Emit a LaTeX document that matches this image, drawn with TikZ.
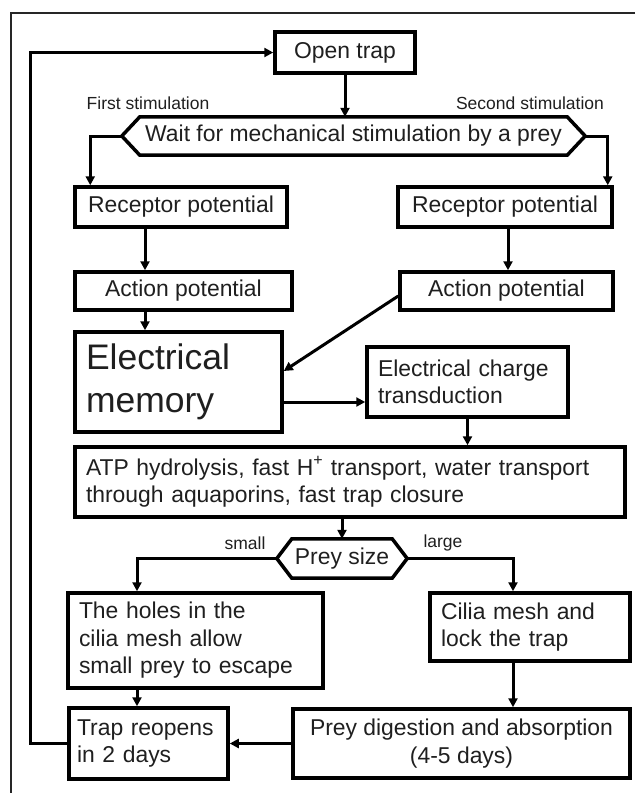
\documentclass[tikz,border=0pt]{standalone}
\usepackage{fontspec}
\setmainfont{Liberation Sans}
\usetikzlibrary{arrows.meta}
\newcommand\HexOutline[2]{%
    \draw[hexline] ([xshift=-#2]#1.west) -- (#1.north west) -- (#1.north east) -- ([xshift=#2]#1.east) -- (#1.south east) -- (#1.south west) -- cycle;
    \coordinate (#1L) at ([xshift=-#2]#1.west);
    \coordinate (#1R) at ([xshift=#2]#1.east);
}

\begin{document}
\begin{tikzpicture}[x=1pt,y=-1pt,
    box/.style={draw,line width=3.5pt,inner xsep=11pt,inner ysep=0pt,align=left,text=black!88,font=\fontsize{22.9}{27.5}\selectfont},
    cbox/.style={box,align=center,inner xsep=0pt},
    hexline/.style={line width=3.5pt},
    hextext/.style={inner sep=0pt,text=black!88,font=\fontsize{22.9}{27.5}\selectfont},
    tag/.style={inner sep=0pt,text=black!88,font=\fontsize{17.5}{20}\selectfont},
    flow/.style={line width=3pt,-{Triangle[length=9pt,width=9pt]}}]
    \useasboundingbox (0,0) rectangle (635,793);
    \draw[line width=2.5pt,color=black!85] (635,13) -- (11,13) -- (11,793);

    \node[cbox,minimum width=140pt,minimum height=41pt] (open) at (345,52.5) {Open trap};
    \node[hextext,minimum width=427pt,minimum height=38pt] (wait) at (353.5,136) {Wait for mechanical stimulation by a prey};
    \HexOutline{wait}{18pt}
    \node[tag] (first) at (148,103) {First stimulation};
    \node[tag] (second) at (530,103) {Second stimulation};

    \node[cbox,minimum width=212pt,minimum height=40pt] (recL) at (181,207) {Receptor potential};
    \node[cbox,minimum width=214pt,minimum height=40pt] (recR) at (505,207) {Receptor potential};
    \node[cbox,minimum width=217pt,minimum height=38pt] (apL) at (183.5,291) {Action potential};
    \node[cbox,minimum width=213pt,minimum height=38pt] (apR) at (506.5,291) {Action potential};
    \node[box,text width=185pt,minimum height=100pt,font=\fontsize{35.5}{43}\selectfont] (mem) at (178.5,382) {Electrical\\memory};
    \node[box,text width=179pt,minimum height=70pt] (ect) at (467.5,382) {Electrical charge\\transduction};
    \node[box,text width=528pt,minimum height=70pt] (atp) at (350,482) {ATP hydrolysis, fast H\textsuperscript{+} transport, water transport\\through aquaporins, fast trap closure};

    \node[hextext,minimum width=100pt,minimum height=39pt] (size) at (342,558.5) {Prey size};
    \HexOutline{size}{15pt}
    \node[tag] (small) at (245,543) {small};
    \node[tag] (large) at (443,543) {large};

    \node[box,text width=233pt,minimum height=95pt] (holes) at (195.5,640.5) {The holes in the\\cilia mesh allow\\small prey to escape};
    \node[box,text width=178pt,minimum height=68pt] (cilia) at (530,627) {Cilia mesh and\\lock the trap};
    \node[box,inner xsep=8pt,text width=143pt,minimum height=71pt] (reopen) at (148.5,743.5) {Trap reopens\\in 2 days};
    \node[cbox,minimum width=337pt,minimum height=69pt] (digest) at (461.5,743.5) {Prey digestion and absorption\\(4-5 days)};

    % connectors
    \coordinate (loopX) at (30,0);
    \coordinate (colL) at (145,0);
    \coordinate (colR) at (508,0);
    \coordinate (colS) at (137,0);
    \coordinate (colG) at (513,0);
    \draw[flow] (reopen.west) -- (reopen.west -| loopX) |- (open.west);
    \draw[flow] (open.south) -- (open.south |- wait.north);
    \draw[flow] (waitL) -| ([xshift=17pt]recL.north west);
    \draw[flow] (waitR) -| ([xshift=-6pt]recR.north east);
    \draw[flow] (recL.south -| colL) -- (apL.north -| colL);
    \draw[flow] (recR.south -| colR) -- (apR.north -| colR);
    \draw[flow] (apL.south -| colL) -- (mem.north -| colL);
    \draw[flow] ([yshift=-5pt]apR.west) -- ([yshift=11pt]mem.east);
    \coordinate (memOut) at ([yshift=-20pt]mem.east);
    \draw[flow] (memOut) -- (memOut -| ect.west);
    \draw[flow] (ect.south) -- (ect.south |- atp.north);
    \draw[flow] (atp.south -| size.north) -- (size.north);
    \draw[flow] (sizeL) -| (holes.north -| colS);
    \draw[flow] (sizeR) -| (cilia.north -| colG);
    \draw[flow] (holes.south -| colS) -- (reopen.north -| colS);
    \draw[flow] (cilia.south -| colG) -- (digest.north -| colG);
    \draw[flow] (digest.west) -- (reopen.east);
\end{tikzpicture}
\end{document}
